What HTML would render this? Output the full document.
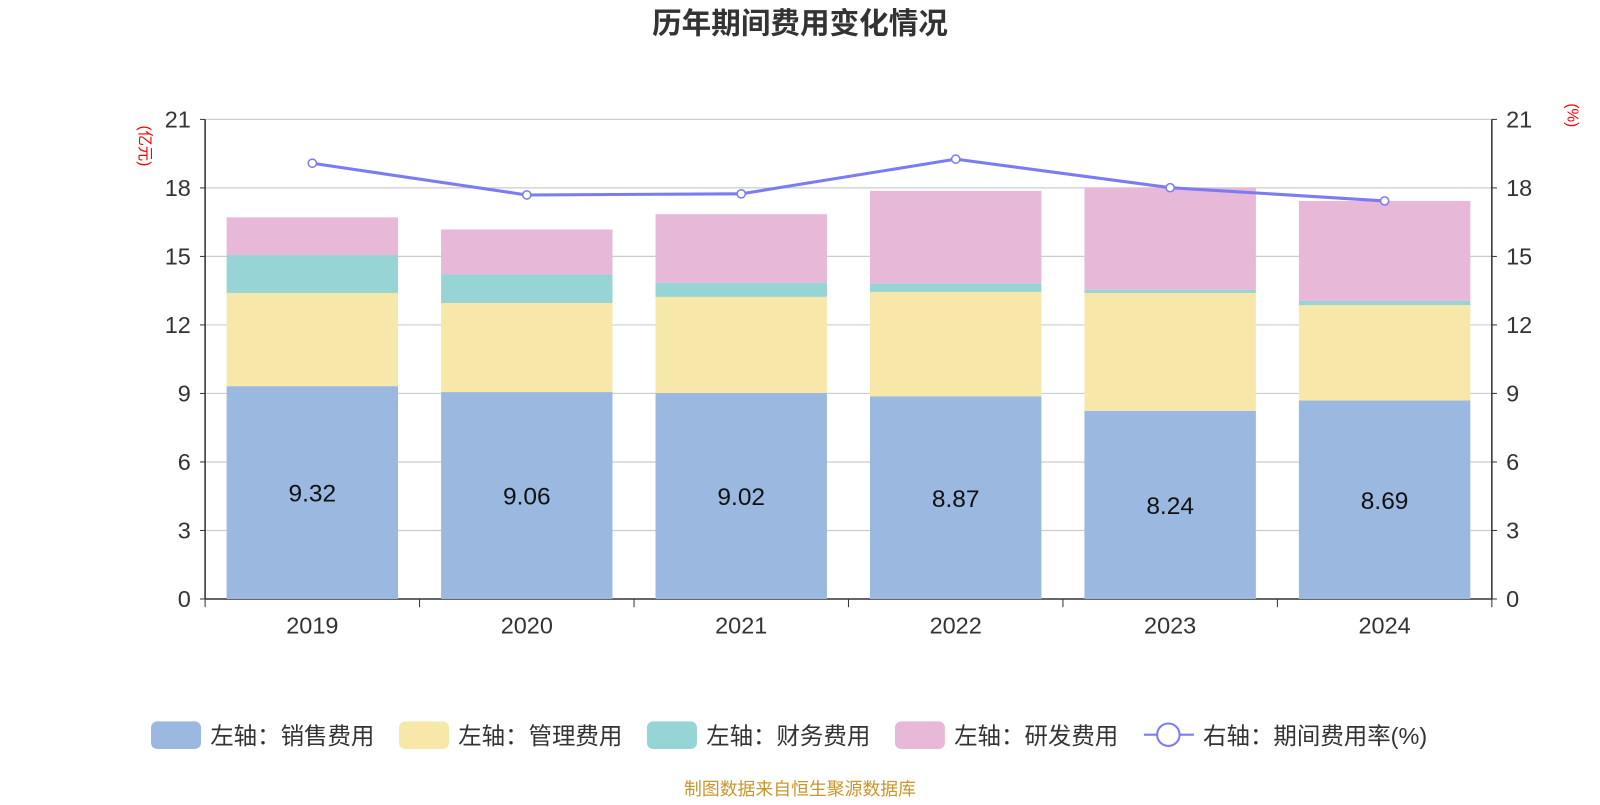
<!DOCTYPE html>
<html><head><meta charset="utf-8"><style>
body{margin:0;background:#fff;font-family:"Liberation Sans","Noto Sans CJK SC",sans-serif}
</style></head><body>
<svg id="c" width="1600" height="800" viewBox="0 0 1568 784" xmlns="http://www.w3.org/2000/svg" style="font-family:'Liberation Sans','Noto Sans CJK SC',sans-serif">
<text x="784" y="33" text-anchor="middle" font-size="29" font-weight="bold" fill="#333">历年期间费用变化情况</text>
<text transform="translate(137,143) rotate(90)" text-anchor="middle" font-size="15" fill="#e00">(亿元)</text>
<text transform="translate(1536,113) rotate(90)" text-anchor="middle" font-size="15" fill="#e00">(%)</text>
<g id="grid"></g><g id="bars"></g><g id="axes"></g><g id="line"></g>
<g id="legend" font-size="23" fill="#333"></g>
<text x="784" y="779" text-anchor="middle" font-size="17.5" fill="#c8962a">制图数据来自恒生聚源数据库</text>
</svg>
<script>
const years=["2019","2020","2021","2022","2023","2024"];
const sales=[9.32,9.06,9.02,8.87,8.24,8.69];
const mgmt=[4.08,3.90,4.21,4.58,5.16,4.18];
const fin=[1.66,1.25,0.62,0.36,0.14,0.18];
const rd=[1.65,1.97,3.00,4.06,4.47,4.38];
const rate=[19.08,17.69,17.74,19.26,18.01,17.43];
const ticks=[0,3,6,9,12,15,18,21];
const NS="http://www.w3.org/2000/svg";
const x0=201,x1=1462,yB=587,yT=117,maxV=21;
const bw=(x1-x0)/years.length;
const y=v=>yB-(v/maxV)*(yB-yT);
const xc=i=>x0+bw*(i+0.5);
function mk(t,a,p){const e=document.createElementNS(NS,t);for(const k in a)e.setAttribute(k,a[k]);p.appendChild(e);return e;}
const G=document.getElementById('grid'),B=document.getElementById('bars'),A=document.getElementById('axes'),L=document.getElementById('line'),LG=document.getElementById('legend');
ticks.forEach(t=>{
 const l=mk('line',{x1:x0,x2:x1,y1:y(t),y2:y(t),stroke:t===0?'#333':'#ccc','stroke-width':t===0?1.5:1.2},G);
 
 
 const a=mk('text',{x:x0-14,y:y(t)+8,'text-anchor':'end','font-size':23,fill:'#333'},A);a.textContent=t;
 
 
 const b=mk('text',{x:x1+14,y:y(t)+8,'font-size':23,fill:'#333'},A);b.textContent=t;
 
 
 mk('line',{x1:x0-5,x2:x0,y1:y(t),y2:y(t),stroke:'#333'},A);
 mk('line',{x1:x1,x2:x1+5,y1:y(t),y2:y(t),stroke:'#333'},A);
});
mk('line',{x1:x0,x2:x0,y1:yT,y2:yB,stroke:'#333','stroke-width':1.5},A);
mk('line',{x1:x1,x2:x1,y1:yT,y2:yB,stroke:'#333','stroke-width':1.5},A);
for(let i=0;i<=years.length;i++)mk('line',{x1:x0+bw*i,x2:x0+bw*i,y1:yB,y2:yB+8,stroke:'#333'},A);
const series=[[sales,'#9bb8e1','sales'],[mgmt,'#f7e7a9','mgmt'],[fin,'#96d4d5','finance'],[rd,'#e7b8d8','rnd']];
years.forEach((yr,i)=>{
 let base=0;
 series.forEach(([arr,col,nm])=>{
  const r=mk('rect',{x:xc(i)-84,width:168,y:y(base+arr[i]),height:y(base)-y(base+arr[i]),fill:col},B);
  
  
  base+=arr[i];
 });
 const t=mk('text',{x:xc(i),y:y(sales[i]/2)+9,'text-anchor':'middle','font-size':24,fill:'#111'},B);t.textContent=sales[i].toFixed(2);
 
 
 const xl=mk('text',{x:xc(i),y:621,'text-anchor':'middle','font-size':23,fill:'#333'},A);xl.textContent=yr;
 
 
});
const pl=mk('polyline',{points:rate.map((v,i)=>xc(i)+','+y(v)).join(' '),fill:'none',stroke:'#7b7bf3','stroke-width':3},L);


rate.forEach((v,i)=>{const c=mk('circle',{cx:xc(i),cy:y(v),r:4,fill:'#fff',stroke:'#7b7bf3','stroke-width':1.5},L);
 
 });
const leg=[['左轴：销售费用','#9bb8e1',148],['左轴：管理费用','#f7e7a9',391],['左轴：财务费用','#96d4d5',634],['左轴：研发费用','#e7b8d8',877]];
leg.forEach(([txt,col,lx])=>{
 const g=mk('g',{},LG);
 
 
 mk('rect',{x:lx,y:707,width:49,height:27,rx:6,fill:col},g);
 const t=mk('text',{x:lx+58,y:729},g);t.textContent=txt;
});
const g=mk('g',{},LG);


mk('line',{x1:1121,x2:1170,y1:720,y2:720,stroke:'#7b7bf3','stroke-width':2},g);
mk('circle',{cx:1145,cy:720,r:11,fill:'#fff',stroke:'#7b7bf3','stroke-width':2},g);
const t=mk('text',{x:1179,y:729},g);t.textContent='右轴：期间费用率(%)';
</script>
</body></html>
